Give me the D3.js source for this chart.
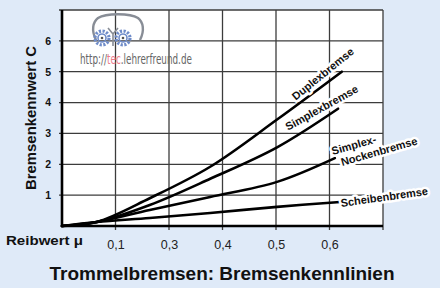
<!DOCTYPE html>
<html>
<head>
<meta charset="utf-8">
<script src="https://cdn.jsdelivr.net/npm/d3@7"></script>
<style>
body { margin: 0; background: #dfeaf8; }
svg { display: block; font-family: "Liberation Sans", Arial, sans-serif; }
.curve { fill: none; stroke: #000; stroke-width: 2.6; stroke-linecap: round; }
.lbl { font-size: 11px; font-weight: bold; fill: #111; stroke: #fff; stroke-width: 5px; paint-order: stroke; stroke-linejoin: round; }
</style>
</head>
<body>
<script>
// tick labels as printed on the original (note: 0,2 is labelled 0,3 there)
var xTickValues = [0.1, 0.2, 0.3, 0.4, 0.5];
var xTickLabels = ["0,1", "0,3", "0,4", "0,5", "0,6"];
var yTickValues = [1, 2, 3, 4, 5, 6];

// curves (mu, C)
var muDuplex = [0, 0.065, 0.164, 0.277, 0.402, 0.523];
var cDuplex  = [0, 0.13, 0.9, 1.92, 3.45, 5.0];
var muSimplex = [0, 0.065, 0.164, 0.277, 0.402, 0.516];
var cSimplex  = [0, 0.13, 0.68, 1.53, 2.55, 3.8];
var muNocken = [0, 0.065, 0.164, 0.277, 0.402, 0.51];
var cNocken  = [0, 0.13, 0.52, 0.94, 1.43, 2.2];
var muScheibe = [0, 0.065, 0.164, 0.277, 0.402, 0.52];
var cScheibe  = [0, 0.13, 0.26, 0.42, 0.62, 0.78];

var seriesNames = ["Duplexbremse", "Simplexbremse", "Simplex-|Nockenbremse", "Scheibenbremse"];

var width = 440, height = 288;
var margin = {top: 10, right: 57, bottom: 62, left: 62};
var plotW = width - margin.left - margin.right;
var plotH = height - margin.top - margin.bottom;

var svg = d3.select("body").append("svg")
    .attr("width", width)
    .attr("height", height);

var x = d3.scaleLinear().domain([0, 0.6]).range([margin.left, width - margin.right]);
var y = d3.scaleLinear().domain([0, 7]).range([height - margin.bottom, margin.top]);

// plot background
svg.append("rect")
    .attr("x", x(0)).attr("y", y(7))
    .attr("width", plotW).attr("height", plotH)
    .attr("fill", "#fff");

// grid
var gridColor = "#3c3c3c";
var gridW = 1.3;
var gridG = svg.append("g").attr("id", "grid");
gridG.selectAll("line.v")
    .data(xTickValues.concat([0.6]))
    .join("line")
    .attr("class", "v")
    .attr("x1", function(d) { return x(d); })
    .attr("x2", function(d) { return x(d); })
    .attr("y1", y(7))
    .attr("y2", y(0) + 4)
    .style("stroke", gridColor)
    .style("stroke-width", gridW);
gridG.selectAll("line.h")
    .data(yTickValues.concat([7]))
    .join("line")
    .attr("class", "h")
    .attr("x1", x(0) - 3)
    .attr("x2", x(0.6))
    .attr("y1", function(d) { return y(d); })
    .attr("y2", function(d) { return y(d); })
    .style("stroke", gridColor)
    .style("stroke-width", gridW);

// watermark
var wm = svg.append("g");
wm.append("path")
    .attr("d", "M96,40 C91,30 93,22 98,18 C106,13 130,13 138,18 C143,22 145,30 140,40")
    .attr("fill", "none").attr("stroke", "#888d96").attr("stroke-width", 2.4);
wm.append("path")
    .attr("d", "M108,28 L113,34 L118,28 M113,34 L113,46")
    .attr("fill", "none").attr("stroke", "#888d96").attr("stroke-width", 1.6);
[102, 123].forEach(function(cx) {
    wm.append("circle").attr("cx", cx).attr("cy", 38).attr("r", 7)
        .attr("fill", "none").attr("stroke", "#6f8cc9").attr("stroke-width", 3.2)
        .attr("stroke-dasharray", "2.2,1.5");
    wm.append("circle").attr("cx", cx).attr("cy", 38).attr("r", 4)
        .attr("fill", "none").attr("stroke", "#6f8cc9").attr("stroke-width", 1.6);
    wm.append("circle").attr("cx", cx).attr("cy", 38).attr("r", 1.3).attr("fill", "#555");
});
var wmText = wm.append("text")
    .attr("font-family", "'Liberation Sans Narrow', 'DejaVu Sans Condensed', sans-serif")
    .attr("font-size", 14)
    .attr("fill", "#666");
wmText.append("tspan").text("http://");
wmText.append("tspan").attr("fill", "#ec7b8c").text("tec");
wmText.append("tspan").text(".lehrerfreund.de");
var wmLen = wmText.node().getComputedTextLength();
wmText.attr("transform", "translate(80,64) scale(" + (112 / wmLen) + ",1)");

// axes
var xAxis = d3.axisBottom(x).tickValues(xTickValues)
    .tickFormat(function(d, i) { return xTickLabels[i]; })
    .tickSize(0).tickPadding(14);
var gx = svg.append("g").attr("transform", "translate(0," + y(0) + ")").call(xAxis);
gx.select(".domain").remove();
gx.selectAll("text").attr("font-size", 12.5).attr("fill", "#222")
    .attr("font-family", "'Liberation Sans', Arial, sans-serif");

var yAxis = d3.axisLeft(y).tickValues(yTickValues).tickFormat(d3.format("d"))
    .tickSize(0).tickPadding(11);
var gy = svg.append("g").attr("transform", "translate(" + x(0) + ",0)").call(yAxis);
gy.select(".domain").remove();
gy.selectAll("text").attr("font-size", 10.5).attr("font-weight", "bold").attr("fill", "#111")
    .attr("font-family", "'Liberation Sans', Arial, sans-serif");

svg.append("line").attr("x1", x(0)).attr("x2", x(0)).attr("y1", y(7)).attr("y2", y(0) + 1)
    .attr("stroke", "#000").attr("stroke-width", 2.6);
svg.append("line").attr("x1", x(0) - 1).attr("x2", x(0.6)).attr("y1", y(0)).attr("y2", y(0))
    .attr("stroke", "#000").attr("stroke-width", 2.6);

// curves
var line = d3.line()
    .x(function(d) { return x(d[0]); })
    .y(function(d) { return y(d[1]); })
    .curve(d3.curveCatmullRom.alpha(0.5));

var curves = [
    d3.zip(muDuplex, cDuplex),
    d3.zip(muSimplex, cSimplex),
    d3.zip(muNocken, cNocken),
    d3.zip(muScheibe, cScheibe)
];
svg.selectAll(".curve").data(curves)
    .enter().append("path")
    .attr("class", "curve")
    .attr("d", line);

// curve labels, placed relative to each curve's end point
var labelPos = [
    {dx: -46, dy: 29, rot: -39},
    {dx: -50, dy: 22, rot: -29},
    {dx: -2, dy: -3, rot: -16},
    {dx: 1, dy: 5, rot: -8}
];
curves.forEach(function(c, i) {
    var end = c[c.length - 1];
    var p = labelPos[i];
    var t = svg.append("text").attr("class", "lbl")
        .attr("transform", "translate(" + (x(end[0]) + p.dx) + "," + (y(end[1]) + p.dy) + ") rotate(" + p.rot + ")");
    seriesNames[i].split("|").forEach(function(s, j) {
        t.append("tspan").attr("x", j * 6).attr("dy", j ? 13 : 0).text(s);
    });
});

// titles
svg.append("text")
    .attr("transform", "translate(36," + (y(3.5)) + ") rotate(-90)")
    .attr("text-anchor", "middle")
    .attr("font-size", 14).attr("font-weight", "bold").attr("fill", "#111")
    .attr("textLength", 144).attr("lengthAdjust", "spacingAndGlyphs")
    .text("Bremsenkennwert C");

svg.append("text")
    .attr("x", 6).attr("y", 245)
    .attr("font-size", 13.5).attr("font-weight", "bold").attr("fill", "#111")
    .attr("textLength", 77).attr("lengthAdjust", "spacingAndGlyphs")
    .text("Reibwert μ");

svg.append("text")
    .attr("x", 222).attr("y", 280)
    .attr("text-anchor", "middle")
    .attr("font-size", 18.5).attr("font-weight", "bold").attr("fill", "#111")
    .attr("textLength", 345).attr("lengthAdjust", "spacingAndGlyphs")
    .text("Trommelbremsen: Bremsenkennlinien");
</script>
</body>
</html>
